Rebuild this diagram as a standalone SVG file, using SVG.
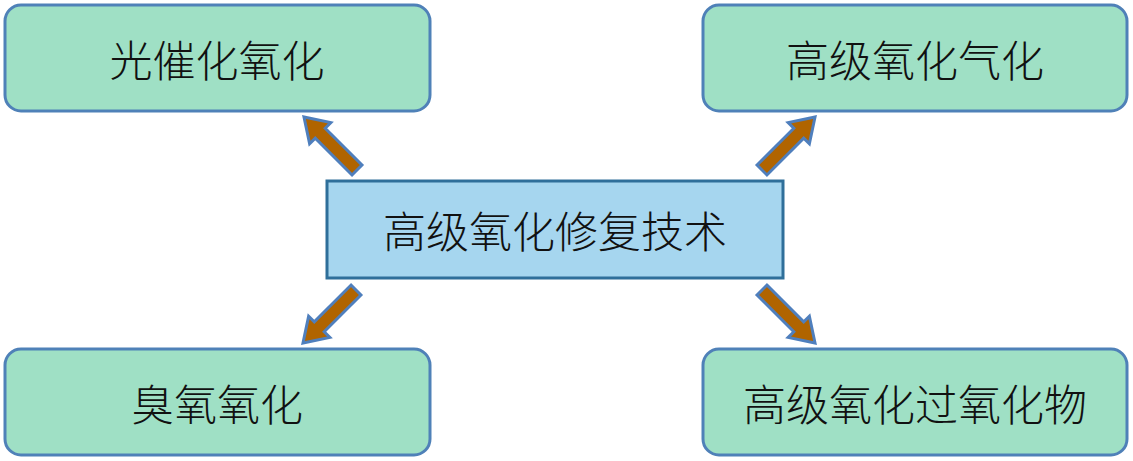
<svg xmlns="http://www.w3.org/2000/svg" width="1133" height="461" viewBox="0 0 1133 461">
<style>
.n{fill:#9fe0c5;stroke:#4f81b8;stroke-width:3}
.c{fill:#a6d6ef;stroke:#2f6f9a;stroke-width:3}
.t{font-family:"Noto Sans CJK SC","Noto Sans CJK JP",sans-serif;font-size:43px;font-weight:300;fill:#111;text-anchor:middle;dominant-baseline:central}
.a{fill:#b06400;stroke:#4f7fbd;stroke-width:3;stroke-linejoin:miter}
</style>
<defs>
<polygon id="arr" class="a" points="0,-7 52,-7 52,-15 75,0 52,15 52,7 0,7"/>
</defs>
<rect width="1133" height="461" fill="#fff"/>
<g id="connectors">
<use href="#arr" transform="translate(357,170) rotate(-135)"/>
<use href="#arr" transform="translate(762,170) rotate(-45)"/>
<use href="#arr" transform="translate(356,290) rotate(135)"/>
<use href="#arr" transform="translate(762,290) rotate(45)"/>
</g>
<g id="center">
<rect class="c" x="327" y="181" width="456" height="97"/>
<text class="t" x="555" y="229">高级氧化修复技术</text>
</g>
<g id="n1">
<rect class="n" x="5" y="5" width="425" height="106" rx="16"/>
<text class="t" x="217" y="58">光催化氧化</text>
</g>
<g id="n2">
<rect class="n" x="703" y="5" width="424" height="106" rx="16"/>
<text class="t" x="915" y="58">高级氧化气化</text>
</g>
<g id="n3">
<rect class="n" x="5" y="349" width="425" height="106" rx="16"/>
<text class="t" x="217" y="402">臭氧氧化</text>
</g>
<g id="n4">
<rect class="n" x="703" y="349" width="424" height="106" rx="16"/>
<text class="t" x="915" y="402">高级氧化过氧化物</text>
</g>
</svg>
